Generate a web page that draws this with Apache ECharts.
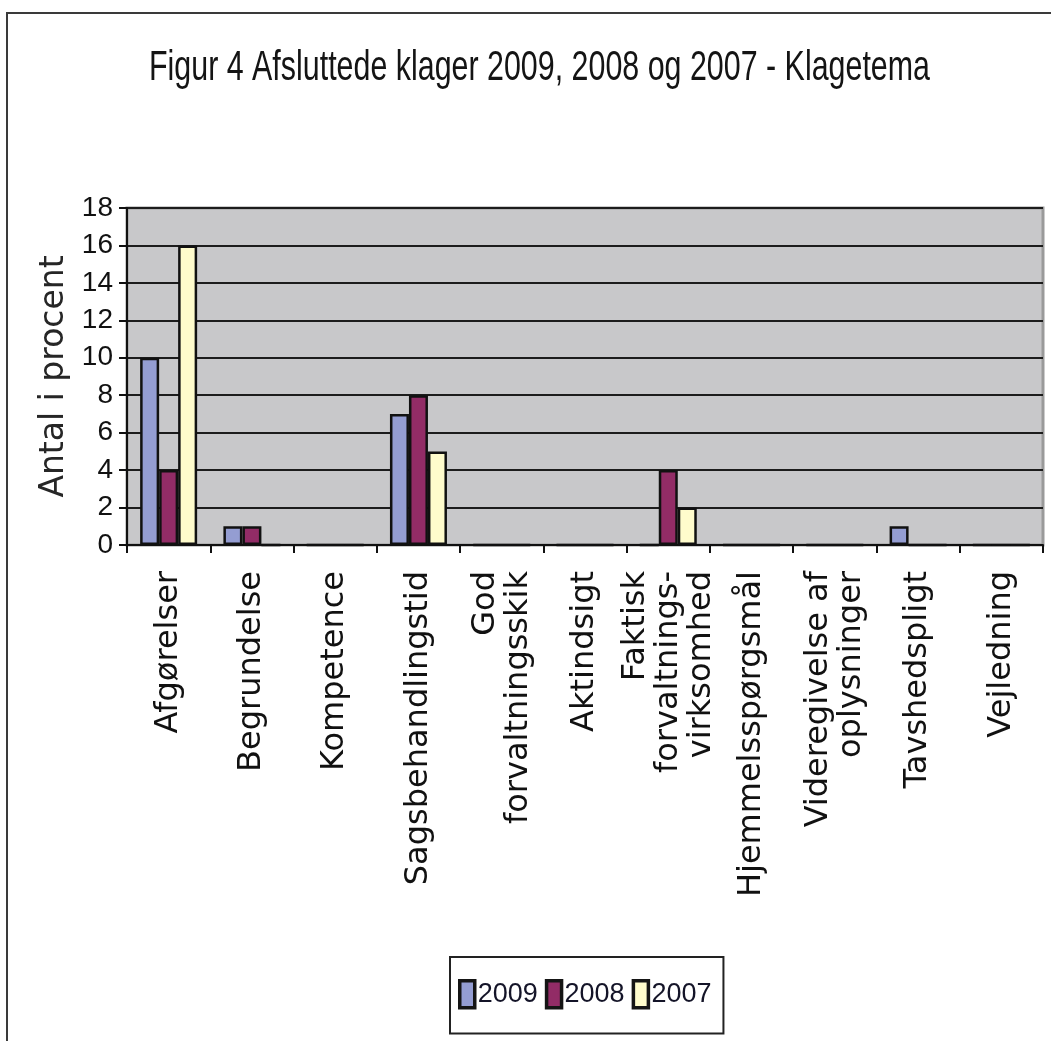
<!DOCTYPE html>
<html>
<head>
<meta charset="utf-8">
<script src="https://cdn.jsdelivr.net/npm/echarts@6/dist/echarts.min.js"></script>
<style>
html,body{margin:0;padding:0;background:#fff;}
#chart{width:1051px;height:1041px;}
</style>
</head>
<body>
<div id="chart"></div>
<script>
const titleText = 'Figur 4 Afsluttede klager 2009, 2008 og 2007 - Klagetema';
const yAxisName = 'Antal i procent';
const categories = [
  'Afgørelser',
  'Begrundelse',
  'Kompetence',
  'Sagsbehandlingstid',
  'God\nforvaltningsskik',
  'Aktindsigt',
  'Faktisk\nforvaltnings-\nvirksomhed',
  'Hjemmelsspørgsmål',
  'Videregivelse af\noplysninger',
  'Tavshedspligt',
  'Vejledning'
];
const seriesNames = ['2009', '2008', '2007'];
const values2009 = [10, 1, 0, 7, 0, 0, 0, 0, 0, 1, 0];
const values2008 = [4, 1, 0, 8, 0, 0, 4, 0, 0, 0, 0];
const values2007 = [16, 0, 0, 5, 0, 0, 2, 0, 0, 0, 0];
const yMin = 0, yMax = 18, yInterval = 2;
const colors = ['#949dd2', '#922c66', '#fffccc'];

const chart = echarts.init(document.getElementById('chart'), null, {renderer: 'canvas'});
const allValues = [values2009, values2008, values2007];
const sans = '"Liberation Sans", Arial, sans-serif';
const wide = '"DejaVu Sans", sans-serif';

const option = {
  backgroundColor: '#ffffff',
  animation: false,
  color: colors,
  graphic: [{
    type: 'rect',
    shape: {x: 7, y: 13, width: 1200, height: 1200},
    style: {fill: 'none', stroke: '#3a3a3a', lineWidth: 2},
    silent: true,
    z: 0
  }, {
    type: 'text',
    x: 149,
    y: 47,
    scaleX: 0.724,
    style: {
      text: titleText,
      font: '42px "Liberation Sans", Arial, sans-serif',
      fill: '#141414',
      textAlign: 'left',
      textVerticalAlign: 'top'
    },
    silent: true,
    z: 10
  }],
  legend: {
    data: seriesNames,
    left: 450,
    top: 957,
    orient: 'horizontal',
    padding: [22, 12, 24, 8],
    borderColor: '#222',
    borderWidth: 2,
    itemWidth: 15,
    itemHeight: 27,
    itemGap: 7,
    icon: 'rect',
    itemStyle: {borderColor: '#151515', borderWidth: 3.5},
    textStyle: {fontFamily: sans, fontSize: 27, color: '#141428', padding: [0, 0, 0, -2]}
  },
  grid: {
    left: 127,
    right: 8,
    top: 208,
    bottom: 496,
    show: true,
    backgroundColor: '#c8c8ca',
    borderColor: '#9a9a9a',
    borderWidth: 3
  },
  xAxis: {
    type: 'category',
    data: categories,
    boundaryGap: true,
    axisLine: {show: true, lineStyle: {color: '#111', width: 2}},
    axisTick: {show: true, length: 8, interval: 0, lineStyle: {color: '#111', width: 2}},
    axisLabel: {
      interval: 0,
      rotate: 90,
      margin: 26,
      fontFamily: wide,
      fontSize: 32,
      lineHeight: 33,
      color: '#111'
    },
    splitLine: {show: false}
  },
  yAxis: {
    type: 'value',
    min: yMin,
    max: yMax,
    interval: yInterval,
    name: yAxisName,
    nameLocation: 'middle',
    nameGap: 52,
    nameRotate: 90,
    nameTextStyle: {fontFamily: wide, fontSize: 33, color: '#262626'},
    axisLine: {show: true, lineStyle: {color: '#111', width: 2}},
    axisTick: {show: true, length: 8, lineStyle: {color: '#111', width: 2}},
    axisLabel: {fontFamily: sans, fontSize: 28, color: '#111', margin: 14},
    splitLine: {show: true, lineStyle: {color: '#1c1c1c', width: 2}}
  },
  series: seriesNames.map((name, i) => ({
    name: name,
    type: 'bar',
    data: allValues[i],
    barWidth: 19,
    barGap: '0%',
    itemStyle: {color: colors[i], borderColor: '#111', borderWidth: 2.5},
    emphasis: {disabled: true}
  }))
};
chart.setOption(option);
</script>
</body>
</html>
